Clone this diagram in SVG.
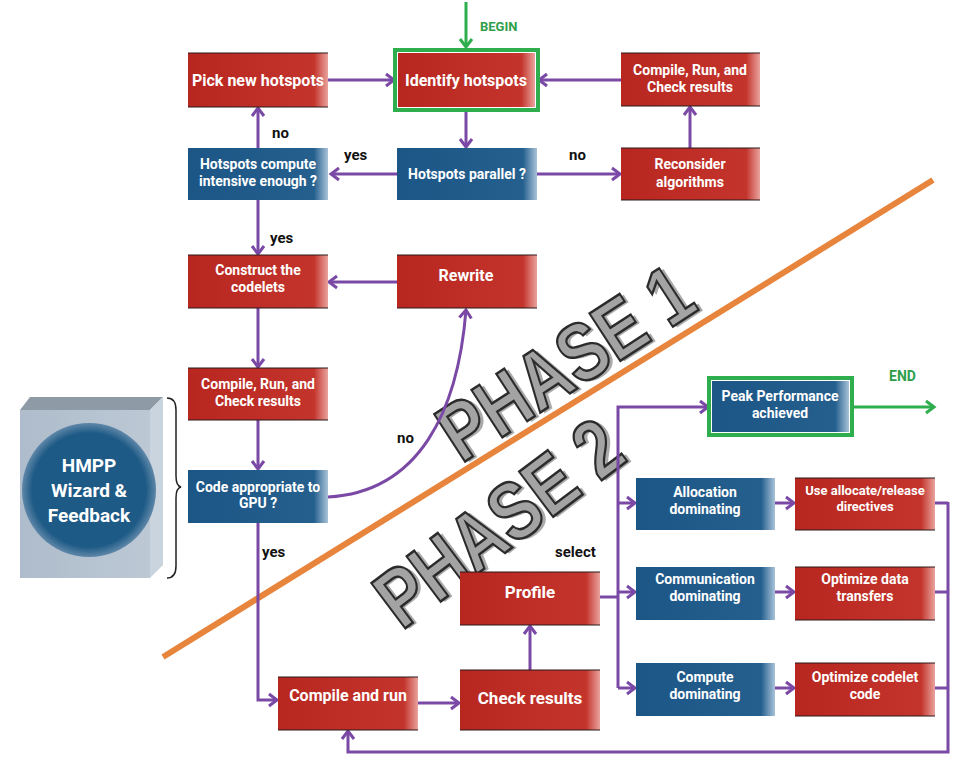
<svg xmlns="http://www.w3.org/2000/svg" width="960" height="763" viewBox="0 0 960 763">
<defs>
<style>
.red{fill:url(#gRed);}
.blue{fill:url(#gBlue);}
.edge{fill:none;stroke:#2a1a1a;stroke-width:1.2;}
.t{font-family:Roboto,"Liberation Sans",sans-serif;font-weight:bold;fill:#fff;text-anchor:middle;font-size:14px;}
.tb{font-size:16px;}
.lbl{font-family:Roboto,"Liberation Sans",sans-serif;font-weight:bold;fill:#111;font-size:15px;}
.c{fill:none;stroke:#7a49a6;stroke-width:3;}
.g{fill:none;stroke:#2fae4e;stroke-width:3;}
.phase{font-family:"Liberation Sans",Arial,sans-serif;font-weight:bold;font-size:82px;text-anchor:middle;fill:#a3a3a3;stroke:#2b2b2b;stroke-width:2.5;}
.phs{font-family:"Liberation Sans",Arial,sans-serif;font-weight:bold;font-size:82px;text-anchor:middle;fill:#444;opacity:0.45;}
</style>
<linearGradient id="gRed" x1="0" y1="0" x2="1" y2="0">
<stop offset="0" stop-color="#b8271f"/>
<stop offset="0.9" stop-color="#c3342c"/>
<stop offset="1" stop-color="#e9a39d"/>
</linearGradient>
<linearGradient id="gBlue" x1="0" y1="0" x2="1" y2="0">
<stop offset="0" stop-color="#1c5686"/>
<stop offset="0.9" stop-color="#245f8e"/>
<stop offset="1" stop-color="#a9c3d8"/>
</linearGradient>
<linearGradient id="gPanel" x1="0" y1="0" x2="1" y2="0">
<stop offset="0" stop-color="#aebccb"/>
<stop offset="1" stop-color="#bcc8d4"/>
</linearGradient>
<radialGradient id="gCirc" cx="0.5" cy="0.5" r="0.5">
<stop offset="0.85" stop-color="#1d5a86"/>
<stop offset="1" stop-color="#5f87a8"/>
</radialGradient>
<marker id="ap" markerUnits="userSpaceOnUse" markerWidth="16" markerHeight="16" refX="11" refY="8" orient="auto">
<path d="M3,2 L11,8 L3,14" fill="none" stroke="#7a49a6" stroke-width="3"/>
</marker>
<marker id="ag" markerUnits="userSpaceOnUse" markerWidth="16" markerHeight="16" refX="11" refY="8" orient="auto">
<path d="M3,2 L11,8 L3,14" fill="none" stroke="#2fae4e" stroke-width="3"/>
</marker>
</defs>
<rect width="960" height="763" fill="#fff"/>

<!-- Phase separator and labels -->
<g id="phases">
<line x1="163" y1="657" x2="933" y2="180" stroke="#e8853d" stroke-width="6"/>
<g transform="translate(565,362) rotate(-33)">
<text class="phs" x="3" y="32" textLength="285" lengthAdjust="spacingAndGlyphs">PHASE 1</text>
<text class="phase" x="0" y="29" textLength="285" lengthAdjust="spacingAndGlyphs">PHASE 1</text>
</g>
<g transform="translate(498,522) rotate(-37)">
<text class="phs" x="3" y="32" textLength="285" lengthAdjust="spacingAndGlyphs">PHASE 2</text>
<text class="phase" x="0" y="29" textLength="285" lengthAdjust="spacingAndGlyphs">PHASE 2</text>
</g>
</g>

<!-- HMPP panel -->
<g id="hmpp">
<polygon points="20,410 30,397 163,397 150,410" fill="#8e9aa6"/>
<polygon points="150,410 163,397 163,565 150,578" fill="#c9d4de"/>
<rect x="20" y="410" width="130" height="168" fill="url(#gPanel)"/>
<circle cx="89" cy="490" r="67" fill="url(#gCirc)"/>
<text class="t" x="89" y="472" style="font-size:19px">HMPP</text>
<text class="t" x="89" y="497" style="font-size:19px">Wizard &amp;</text>
<text class="t" x="89" y="522" style="font-size:19px">Feedback</text>
<path d="M167,398 Q176,398 176,410 L176,476 Q176,486 181,487 Q176,488 176,498 L176,566 Q176,578 167,578" fill="none" stroke="#222" stroke-width="1.5"/>
</g>

<!-- Connectors -->
<g id="connectors">
<line class="g" x1="466" y1="2" x2="466" y2="47" marker-end="url(#ag)"/>
<line class="c" x1="328" y1="80" x2="394" y2="80" marker-end="url(#ap)"/>
<line class="c" x1="621" y1="80" x2="539" y2="80" marker-end="url(#ap)"/>
<line class="c" x1="466" y1="110" x2="466" y2="147" marker-end="url(#ap)"/>
<line class="c" x1="397" y1="174" x2="331" y2="174" marker-end="url(#ap)"/>
<line class="c" x1="537" y1="174" x2="620" y2="174" marker-end="url(#ap)"/>
<line class="c" x1="690" y1="148" x2="690" y2="107" marker-end="url(#ap)"/>
<line class="c" x1="258" y1="148" x2="258" y2="108" marker-end="url(#ap)"/>
<line class="c" x1="258" y1="200" x2="258" y2="254" marker-end="url(#ap)"/>
<line class="c" x1="397" y1="282" x2="329" y2="282" marker-end="url(#ap)"/>
<line class="c" x1="258" y1="308" x2="258" y2="367" marker-end="url(#ap)"/>
<line class="c" x1="258" y1="420" x2="258" y2="469" marker-end="url(#ap)"/>
<path class="c" d="M328,497 C420,492 458,410 466,310" marker-end="url(#ap)"/>
<path class="c" d="M258,523 L258,700 L277,700" marker-end="url(#ap)"/>
<line class="c" x1="418" y1="703" x2="459" y2="703" marker-end="url(#ap)"/>
<line class="c" x1="530" y1="670" x2="530" y2="626" marker-end="url(#ap)"/>
<path class="c" d="M600,597 L618,597"/>
<path class="c" d="M618,688 L618,407 L708,407" marker-end="url(#ap)"/>
<line class="c" x1="618" y1="503" x2="635" y2="503" marker-end="url(#ap)"/>
<line class="c" x1="618" y1="592" x2="635" y2="592" marker-end="url(#ap)"/>
<line class="c" x1="618" y1="688" x2="635" y2="688" marker-end="url(#ap)"/>
<line class="c" x1="775" y1="503" x2="794" y2="503" marker-end="url(#ap)"/>
<line class="c" x1="775" y1="592" x2="794" y2="592" marker-end="url(#ap)"/>
<line class="c" x1="775" y1="688" x2="794" y2="688" marker-end="url(#ap)"/>
<line class="c" x1="935" y1="503" x2="948" y2="503"/>
<line class="c" x1="935" y1="592" x2="948" y2="592"/>
<line class="c" x1="935" y1="688" x2="948" y2="688"/>
<path class="c" d="M948,502 L948,752 L348,752 L348,731" marker-end="url(#ap)"/>
<line class="g" x1="852" y1="407" x2="934" y2="407" marker-end="url(#ag)"/>
<text class="lbl" x="480" y="31" style="fill:#2f9e4a;font-size:13px">BEGIN</text>
<text class="lbl" x="889" y="381" style="fill:#2f9e4a;font-size:14px">END</text>
<text class="lbl" x="272" y="138">no</text>
<text class="lbl" x="344" y="160">yes</text>
<text class="lbl" x="569" y="160">no</text>
<text class="lbl" x="270" y="243">yes</text>
<text class="lbl" x="397" y="443">no</text>
<text class="lbl" x="262" y="557">yes</text>
<text class="lbl" x="555" y="557">select</text>
</g>

<!-- Nodes -->
<g id="pick"><rect class="red" x="188" y="53" width="140" height="54"/><path class="edge" d="M188,53 H328 M188,107 H328"/><text class="t tb" x="258" y="86">Pick new hotspots</text></g>
<g id="identify"><rect x="395" y="50" width="143" height="60" fill="none" stroke="#2fae4e" stroke-width="4"/><rect class="red" x="398" y="53" width="137" height="54"/><text class="t tb" x="466" y="86">Identify hotspots</text></g>
<g id="compile1"><rect class="red" x="621" y="53" width="139" height="53"/><path class="edge" d="M621,53 H760 M621,106 H760"/><text class="t" x="690" y="75">Compile, Run, and</text><text class="t" x="690" y="92">Check results</text></g>
<g id="intensive"><rect class="blue" x="188" y="148" width="140" height="52"/><text class="t" x="258" y="169">Hotspots compute</text><text class="t" x="258" y="186">intensive enough ?</text></g>
<g id="parallel"><rect class="blue" x="397" y="148" width="140" height="52"/><text class="t" x="467" y="179">Hotspots parallel ?</text></g>
<g id="reconsider"><rect class="red" x="621" y="148" width="139" height="52"/><path class="edge" d="M621,148 H760 M621,200 H760"/><text class="t" x="690" y="169">Reconsider</text><text class="t" x="690" y="187">algorithms</text></g>
<g id="construct"><rect class="red" x="188" y="255" width="140" height="53"/><path class="edge" d="M188,255 H328 M188,308 H328"/><text class="t" x="258" y="275">Construct the</text><text class="t" x="258" y="292">codelets</text></g>
<g id="rewrite"><rect class="red" x="397" y="255" width="140" height="53"/><path class="edge" d="M397,255 H537 M397,308 H537"/><text class="t tb" x="466" y="281">Rewrite</text></g>
<g id="compile2"><rect class="red" x="188" y="368" width="140" height="52"/><path class="edge" d="M188,368 H328 M188,420 H328"/><text class="t" x="258" y="389">Compile, Run, and</text><text class="t" x="258" y="406">Check results</text></g>
<g id="appropriate"><rect class="blue" x="188" y="470" width="140" height="53"/><text class="t" x="258" y="492">Code appropriate to</text><text class="t" x="258" y="508">GPU ?</text></g>
<g id="peak"><rect x="709" y="378" width="143" height="57" fill="none" stroke="#2fae4e" stroke-width="4"/><rect class="blue" x="712" y="381" width="137" height="51"/><text class="t" x="780" y="401">Peak Performance</text><text class="t" x="780" y="418">achieved</text></g>
<g id="allocation"><rect class="blue" x="636" y="478" width="139" height="52"/><text class="t" x="705" y="497">Allocation</text><text class="t" x="705" y="514">dominating</text></g>
<g id="useallocate"><rect class="red" x="795" y="478" width="140" height="52"/><path class="edge" d="M795,478 H935 M795,530 H935"/><text class="t" x="865" y="495" style="font-size:13px">Use allocate/release</text><text class="t" x="865" y="511" style="font-size:13px">directives</text></g>
<g id="communication"><rect class="blue" x="636" y="567" width="139" height="53"/><text class="t" x="705" y="584">Communication</text><text class="t" x="705" y="601">dominating</text></g>
<g id="optdata"><rect class="red" x="795" y="567" width="140" height="53"/><path class="edge" d="M795,567 H935 M795,620 H935"/><text class="t" x="865" y="584">Optimize data</text><text class="t" x="865" y="601">transfers</text></g>
<g id="compute"><rect class="blue" x="636" y="663" width="139" height="53"/><text class="t" x="705" y="682">Compute</text><text class="t" x="705" y="699">dominating</text></g>
<g id="optcodelet"><rect class="red" x="795" y="663" width="140" height="53"/><path class="edge" d="M795,663 H935 M795,716 H935"/><text class="t" x="865" y="682">Optimize codelet</text><text class="t" x="865" y="699">code</text></g>
<g id="profile"><rect class="red" x="460" y="572" width="140" height="53"/><path class="edge" d="M460,572 H600 M460,625 H600"/><text class="t" x="530" y="598" style="font-size:17px">Profile</text></g>
<g id="check"><rect class="red" x="460" y="670" width="140" height="60"/><path class="edge" d="M460,670 H600 M460,730 H600"/><text class="t" x="530" y="704" style="font-size:17px">Check results</text></g>
<g id="compilerun"><rect class="red" x="278" y="677" width="140" height="53"/><path class="edge" d="M278,677 H418 M278,730 H418"/><text class="t tb" x="348" y="701">Compile and run</text></g>
</svg>
